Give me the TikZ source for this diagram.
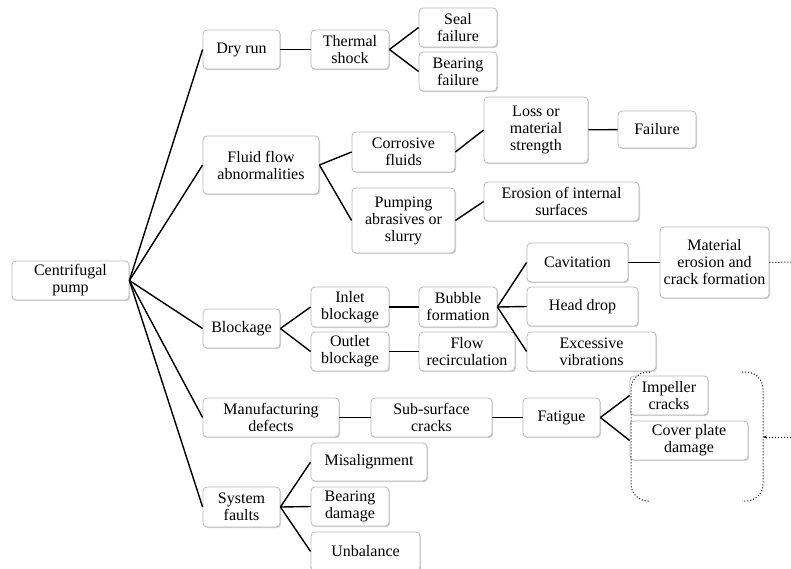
\documentclass[tikz,border=0pt]{standalone}
\usepackage{fontspec}
\setmainfont{Liberation Serif}
\usetikzlibrary{shadows,arrows.meta}
\begin{document}
\begin{tikzpicture}[x=1pt,y=-1pt,
  box/.style={draw=gray!55, line width=0.8pt, fill=white, rounded corners=4pt,
    inner sep=0pt, align=center,
    font=\fontsize{16pt}{17pt}\selectfont,
    drop shadow={shadow xshift=1pt, shadow yshift=-1.2pt, opacity=0.35, fill=gray}},
  conn/.style={line width=1.4pt, black},
  dots/.style={line width=1pt, dotted, black}]
\useasboundingbox (0,0) rectangle (791,569);
\clip (0,0) rectangle (791,569);
\newcommand{\bx}[6]{\node[box, minimum width=#4pt, minimum height=#5pt] (#1) at (#2,#3) {#6};}
\bx{pump}{70.5}{280.5}{117}{39}{Centrifugal\\pump}
\bx{dry}{241.5}{49.5}{77}{39}{Dry run}
\bx{thermal}{350}{49.5}{78}{39}{Thermal\\shock}
\bx{seal}{458}{27.5}{78}{39}{Seal\\failure}
\bx{bearingf}{458}{71.5}{78}{39}{Bearing\\failure}
\bx{fluid}{261}{165}{116}{58}{Fluid flow\\abnormalities}
\bx{corr}{403.5}{152}{103}{40}{Corrosive\\fluids}
\bx{pumping}{403.5}{220.5}{103}{65}{Pumping\\abrasives or\\slurry}
\bx{loss}{536}{130}{104}{66}{Loss or\\material\\strength}
\bx{failure}{657}{129.5}{78}{37}{Failure}
\bx{erosion}{561.5}{201.5}{155}{39}{Erosion of internal\\surfaces}
\bx{blockage}{241.5}{328.5}{77}{39}{Blockage}
\bx{inlet}{350}{307}{78}{40}{Inlet\\blockage}
\bx{outlet}{350}{351.5}{78}{39}{Outlet\\blockage}
\bx{bubble}{458}{307}{78}{40}{Bubble\\formation}
\bx{flowrec}{467}{351.5}{96}{39}{Flow\\recirculation}
\bx{cav}{577.5}{262.5}{101}{39}{Cavitation}
\bx{head}{582.5}{306.5}{111}{39}{Head drop}
\bx{excess}{591.5}{351.5}{129}{39}{Excessive\\vibrations}
\bx{material}{714.5}{262.5}{109}{71}{Material\\erosion and\\crack formation}
\bx{manuf}{271}{417.5}{136}{39}{Manufacturing\\defects}
\bx{subsurf}{431.5}{417.5}{121}{39}{Sub-surface\\cracks}
\bx{fatigue}{561.5}{417.5}{77}{39}{Fatigue}
\bx{impeller}{669}{395.5}{78}{39}{Impeller\\cracks}
\bx{cover}{689}{440.5}{118}{39}{Cover plate\\damage}
\bx{misalign}{369}{462}{116}{38}{Misalignment}
\bx{system}{241.5}{507}{77}{40}{System\\faults}
\bx{bearingd}{350}{506.5}{78}{39}{Bearing\\damage}
\bx{unbal}{365.5}{551.5}{109}{39}{Unbalance}
% connectors
\foreach \t in {dry,fluid,blockage,manuf,system} \draw[conn] (pump.east) -- (\t.west);
\draw[conn] (dry) -- (thermal);
\draw[conn] (thermal.east) -- (seal.west);
\draw[conn] (thermal.east) -- (bearingf.west);
\draw[conn] (fluid.east) -- (corr.west);
\draw[conn] (fluid.east) -- (pumping.west);
\draw[conn] (corr.east) -- (loss.west);
\draw[conn] (pumping.east) -- (erosion.west);
\draw[conn] (loss) -- (failure);
\draw[conn] (blockage.east) -- (inlet.west);
\draw[conn] (blockage.east) -- (outlet.west);
\draw[conn] (inlet) -- (bubble);
\draw[conn] (outlet.east) -- (flowrec.west);
\draw[conn] (bubble.east) -- (cav.west);
\draw[conn] (bubble.east) -- (head.west);
\draw[conn] (bubble.east) -- (excess.west);
\draw[conn] (cav.east) -- (material.west);
\draw[conn] (manuf) -- (subsurf);
\draw[conn] (subsurf) -- (fatigue);
\draw[conn] (fatigue.east) -- (impeller.west);
\draw[conn] (fatigue.east) -- (cover.west);
\draw[conn] (system.east) -- (misalign.west);
\draw[conn] (system.east) -- (bearingd.west);
\draw[conn] (system.east) -- (unbal.west);
% dotted brackets and links
\coordinate (lt) at (650,372);
\coordinate (lb) at (650,501);
\coordinate (rt) at (742,372);
\coordinate (rb) at (742,501);
\coordinate (rmid) at (763,437);
\coordinate (arrstart) at (791,437);
\coordinate (matend) at (791,262);
\draw[dots, rounded corners=17pt] (lt) -- (631,372) -- (631,501) -- (lb);
\draw[dots, rounded corners=17pt] (rt) -- (763,372) -- (763,501) -- (rb);
\draw[dots, -{Stealth[length=4pt,width=3pt]}] (arrstart) -- (rmid);
\draw[dots] (material.east) -- (matend);
\end{tikzpicture}
\end{document}
